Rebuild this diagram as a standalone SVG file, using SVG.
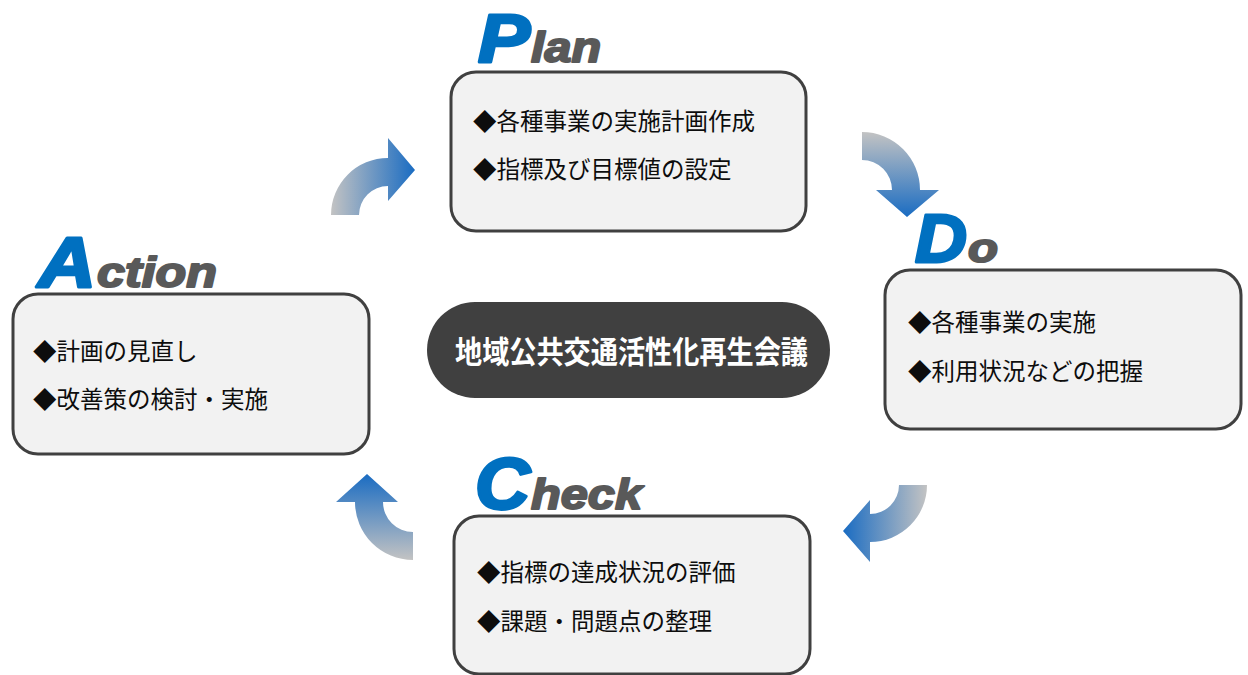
<svg xmlns="http://www.w3.org/2000/svg" width="1248" height="675" viewBox="0 0 1248 675">
<style>
.box{fill:#f2f2f2;stroke:#404040;stroke-width:3}
.body{font-family:"Noto Sans CJK JP","Noto Sans",sans-serif;font-size:23.5px;fill:#0d0d0d}
.big{font-family:"Liberation Sans",Arial,sans-serif;font-weight:bold;font-style:italic;fill:#0070c0;stroke:#0070c0;stroke-width:3;stroke-linejoin:round}
.small{font-family:"Liberation Sans",Arial,sans-serif;font-weight:bold;font-style:italic;fill:#595959;stroke:#595959;stroke-width:2;stroke-linejoin:round}
</style>
<defs>
<linearGradient id="gH" x1="0" y1="0" x2="1" y2="0"><stop offset="0" stop-color="#c3c3c3"/><stop offset="1" stop-color="#1a6cc2"/></linearGradient>
<linearGradient id="gHr" x1="1" y1="0" x2="0" y2="0"><stop offset="0" stop-color="#c3c3c3"/><stop offset="1" stop-color="#1a6cc2"/></linearGradient>
<linearGradient id="gV" x1="0" y1="0" x2="0" y2="1"><stop offset="0" stop-color="#c3c3c3"/><stop offset="1" stop-color="#1a6cc2"/></linearGradient>
<linearGradient id="gVr" x1="0" y1="1" x2="0" y2="0"><stop offset="0" stop-color="#c3c3c3"/><stop offset="1" stop-color="#1a6cc2"/></linearGradient>
</defs>
<g id="connectors">
<path fill="url(#gH)" d="M 331,215 A 57 57 0 0 1 388,158 L 388,138 L 415,170 L 388,201 L 388,186 A 29 29 0 0 0 359,215 Z"/>
<path fill="url(#gV)" d="M 862,132 A 58 58 0 0 1 920,190 L 939,190 L 907,217 L 876,190 L 892,190 A 30 30 0 0 0 862,160 Z"/>
<path fill="url(#gHr)" d="M 898,485 L 927,485 A 57 57 0 0 1 870,542 L 870,562 L 843,531 L 870,500 L 870,514 A 29 29 0 0 0 899,485 Z"/>
<path fill="url(#gVr)" d="M 413,560 A 58 58 0 0 1 355,502 L 336,502 L 367,474 L 398,502 L 383,502 A 30 30 0 0 0 413,532 Z"/>
</g>
<g id="plan">
<text class="big" x="478" y="62" font-size="69" textLength="52" lengthAdjust="spacingAndGlyphs">P</text>
<text class="small" x="531" y="62" font-size="42" textLength="70" lengthAdjust="spacingAndGlyphs">lan</text>
<rect class="box" x="451" y="72" width="355" height="159" rx="25"/>
<text class="body" x="473" y="130">◆各種事業の実施計画作成</text>
<text class="body" x="473" y="178">◆指標及び目標値の設定</text>
</g>
<g id="do">
<text class="big" x="915" y="262" font-size="69" textLength="52" lengthAdjust="spacingAndGlyphs">D</text>
<text class="small" x="968" y="262" font-size="40" textLength="30" lengthAdjust="spacingAndGlyphs">o</text>
<rect class="box" x="885" y="270" width="356" height="159" rx="25"/>
<text class="body" x="908" y="331">◆各種事業の実施</text>
<text class="body" x="908" y="380">◆利用状況などの把握</text>
</g>
<g id="action">
<text class="big" x="38" y="287" font-size="70" textLength="58" lengthAdjust="spacingAndGlyphs">A</text>
<text class="small" x="97" y="287" font-size="42" textLength="120" lengthAdjust="spacingAndGlyphs">ction</text>
<rect class="box" x="13" y="294" width="356" height="160" rx="25"/>
<text class="body" x="33" y="360">◆計画の見直し</text>
<text class="body" x="33" y="408">◆改善策の検討・実施</text>
</g>
<g id="check">
<text class="big" x="475" y="509" font-size="72" textLength="55" lengthAdjust="spacingAndGlyphs">C</text>
<text class="small" x="531" y="509" font-size="43" textLength="111" lengthAdjust="spacingAndGlyphs">heck</text>
<rect class="box" x="454" y="516" width="356" height="158" rx="25"/>
<text class="body" x="477" y="581">◆指標の達成状況の評価</text>
<text class="body" x="477" y="630">◆課題・問題点の整理</text>
</g>
<g id="center">
<rect x="427" y="302" width="403" height="96" rx="48" fill="#404040"/>
<text x="455" y="363" font-family="'Noto Sans CJK JP',sans-serif" font-weight="bold" font-size="31" fill="#ffffff" textLength="353" lengthAdjust="spacingAndGlyphs">地域公共交通活性化再生会議</text>
</g>
</svg>
